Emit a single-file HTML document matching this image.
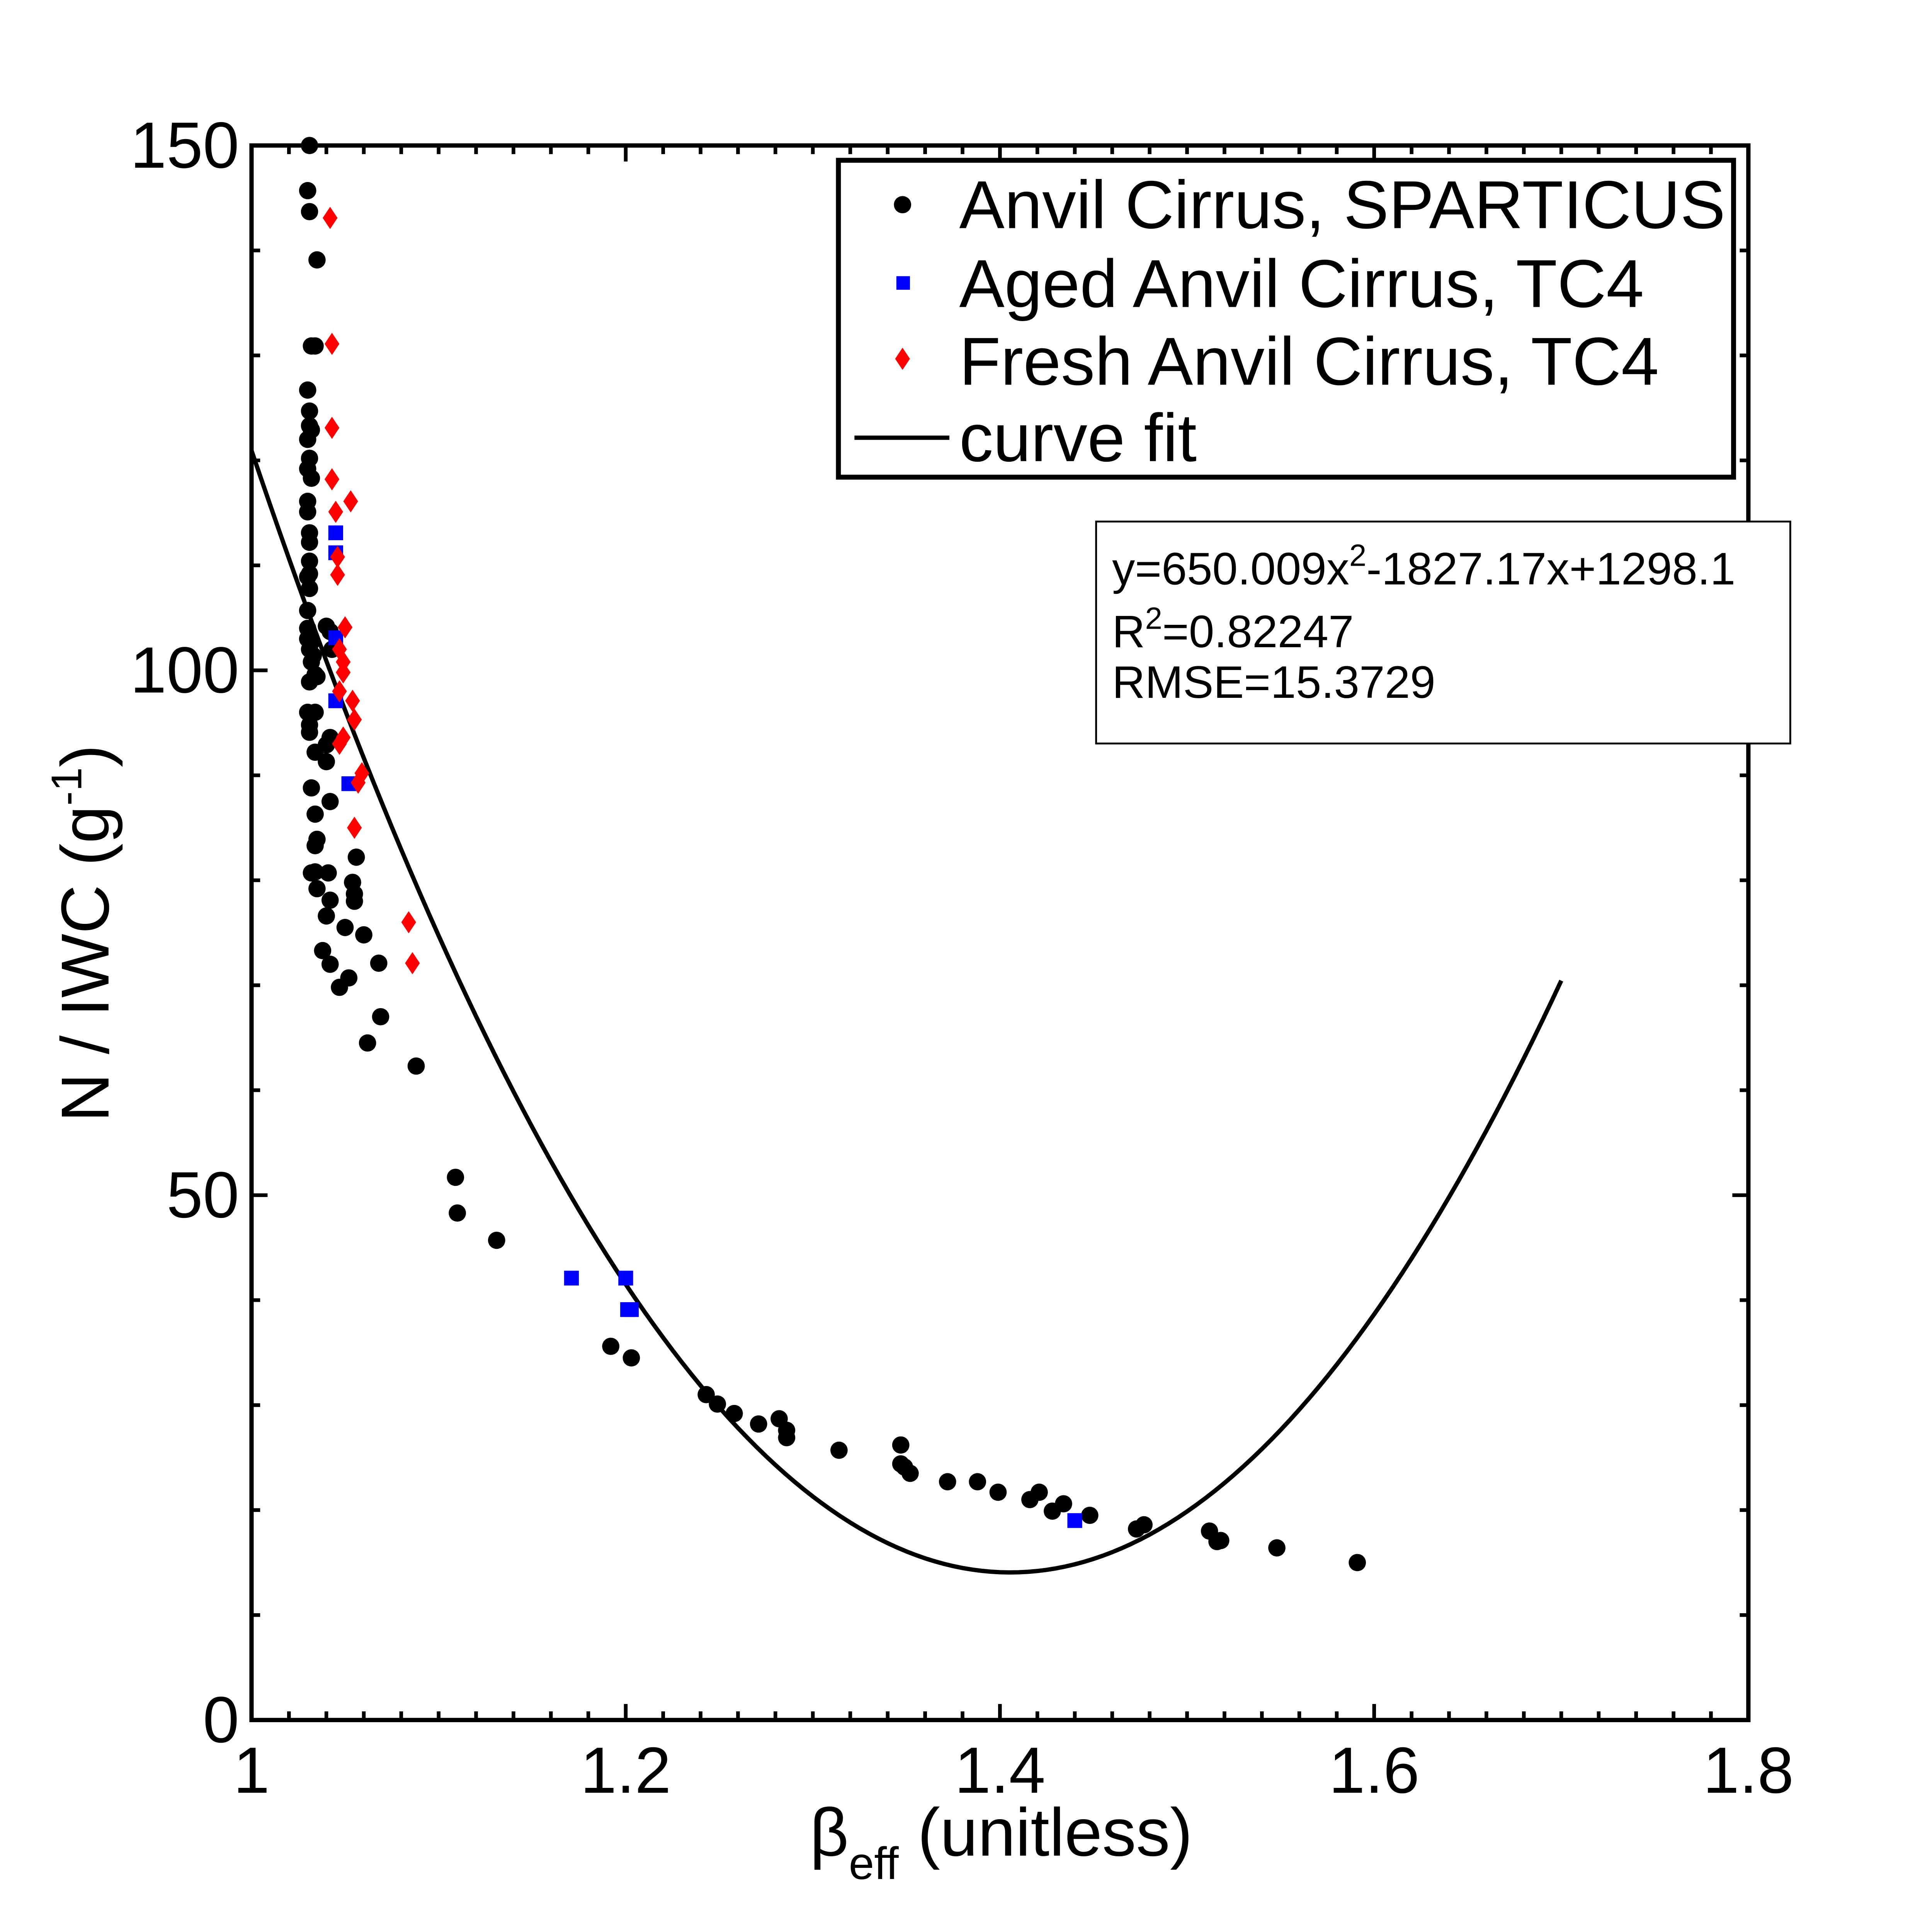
<!DOCTYPE html>
<html><head><meta charset="utf-8">
<style>
html,body{margin:0;padding:0;background:#fff;overflow:hidden;width:5281px;height:5282px;}
svg{display:block;font-family:"Liberation Sans",Arial,sans-serif;}
</style></head>
<body>
<svg id="chart" width="5281" height="5282" viewBox="0 0 1655 1655.3" preserveAspectRatio="none" xmlns="http://www.w3.org/2000/svg">
<rect x="0" y="0" width="1655" height="1656" fill="#fff"/>
<g id="grid"></g>
<g id="marks"></g>
<rect x="204" y="118" width="1214" height="1277" fill="none" stroke="#000" stroke-width="3.5"/>
<g id="ticks"></g>
<text transform="translate(88,757) rotate(-90)" text-anchor="middle" font-size="55">N / IWC (g<tspan font-size="35" dy="-22">-1</tspan><tspan dy="22">)</tspan></text>
<text x="812" y="1505" text-anchor="middle" font-size="55">β<tspan font-size="37" dy="19">eff</tspan><tspan dy="-19"> (unitless)</tspan></text>
<g>
<rect x="680" y="130" width="726" height="257" fill="#fff" stroke="#000" stroke-width="4"/>
<circle cx="732" cy="166" r="7" fill="#000"/>
<text x="778" y="185" font-size="55">Anvil Cirrus, SPARTICUS</text>
<rect x="727" y="224" width="11" height="11" fill="#0000ff"/>
<text x="778" y="249" font-size="55">Aged Anvil Cirrus, TC4</text>
<polygon points="732,282 738,291 732,300 726,291" fill="#ff0000"/>
<text x="778" y="312" font-size="55">Fresh Anvil Cirrus, TC4</text>
<line x1="693" y1="355" x2="770" y2="355" stroke="#000" stroke-width="3.5"/>
<text x="778" y="374" font-size="55">curve fit</text>
</g>
<g>
<rect x="889" y="423" width="563" height="180" fill="#fff" stroke="#000" stroke-width="1.5"/>
<text x="902" y="474" font-size="37">y=650.009x<tspan font-size="25" dy="-15">2</tspan><tspan dy="15">-1827.17x+1298.1</tspan></text>
<text x="902" y="525" font-size="37">R<tspan font-size="25" dy="-15">2</tspan><tspan dy="15">=0.82247</tspan></text>
<text x="902" y="566" font-size="37">RMSE=15.3729</text>
</g>
</svg>
<script>
const blackX=[1.031,1.030,1.031,1.035,1.034,1.032,1.030,1.031,1.031,1.032,1.030,1.031,1.030,1.032,1.030,1.030,1.031,1.031,1.031,1.031,1.030,1.031,1.030,1.030,1.030,1.032,1.031,1.033,1.032,1.034,1.031,1.035,1.040,1.042,1.043,1.030,1.031,1.034,1.031,1.040,1.040,1.042,1.034,1.032,1.042,1.034,1.035,1.034,1.056,1.032,1.034,1.041,1.054,1.035,1.055,1.055,1.040,1.042,1.050,1.060,1.038,1.042,1.052,1.068,1.047,1.069,1.062,1.088,1.109,1.110,1.131,1.192,1.203,1.243,1.249,1.258,1.271,1.282,1.286,1.286,1.314,1.347,1.347,1.349,1.352,1.372,1.388,1.399,1.416,1.421,1.428,1.434,1.448,1.473,1.477,1.512,1.516,1.518,1.548,1.591];
const blackY=[150.0,145.7,143.7,139.1,130.9,130.9,126.7,124.7,123.3,122.9,122.0,120.2,119.2,118.3,116.1,115.1,113.1,112.2,110.4,109.2,108.9,107.8,105.7,104.0,103.0,102.7,102.0,101.4,100.8,99.6,98.9,99.4,104.2,103.7,102.0,96.0,94.8,96.0,94.1,91.3,92.9,93.6,92.2,88.8,87.5,86.3,83.9,83.3,82.2,80.7,80.8,80.7,79.8,79.2,78.7,78.0,76.6,78.1,75.5,74.8,73.3,72.0,70.7,72.1,69.8,67.0,64.5,62.3,51.7,48.3,45.7,35.6,34.5,31.0,30.1,29.2,28.2,28.7,27.6,26.9,25.7,26.2,24.4,24.1,23.5,22.7,22.7,21.7,21.0,21.7,19.9,20.6,19.5,18.2,18.6,18.0,17.0,17.1,16.4,15.0];
const blueX=[1.045,1.045,1.045,1.045,1.052,1.171,1.200,1.201,1.203,1.440];
const blueY=[113.1,111.2,103.1,97.1,89.2,42.1,42.1,39.1,39.1,19.0];
const redX=[1.042,1.043,1.043,1.043,1.045,1.053,1.046,1.046,1.050,1.047,1.049,1.049,1.047,1.054,1.055,1.049,1.047,1.059,1.057,1.055,1.084,1.086];
const redY=[143.1,131.1,123.1,118.2,115.1,116.1,110.8,109.1,104.1,102.0,100.8,99.8,98.0,97.1,95.3,93.6,93.0,90.2,89.3,85.0,76.0,72.1];
const fitCoef=[650.009,-1827.17,1298.1];
const fitRange=[1.0,1.7];
const xTicks=[1,1.2,1.4,1.6,1.8];
const xTickLabels=["1","1.2","1.4","1.6","1.8"];
const yTicks=[0,50,100,150];
const yTickLabels=["0","50","100","150"];

const NS="http://www.w3.org/2000/svg";
const X0=204,X1=1418,Y0=1395,Y1=118;
const xMin=1,xMax=1.8,yMin=0,yMax=150;
function sx(v){return X0+(v-xMin)/(xMax-xMin)*(X1-X0);}
function sy(v){return Y0-(v-yMin)/(yMax-yMin)*(Y0-Y1);}
function mk(tag,attrs,parent){const e=document.createElementNS(NS,tag);for(const k in attrs)e.setAttribute(k,attrs[k]);parent.appendChild(e);return e;}
const marks=document.getElementById('marks');
const ticks=document.getElementById('ticks');

for(let i=0;i<=40;i++){
  const v=xMin+i*0.02;const x=sx(v);const major=i%10===0;const L=major?13:7;
  const t1=mk('line',{x1:x,y1:Y0,x2:x,y2:Y0-L,stroke:'#000','stroke-width':3},ticks);
  
  
  const t2=mk('line',{x1:x,y1:Y1,x2:x,y2:Y1+L,stroke:'#000','stroke-width':3},ticks);
  
  
}
for(let i=0;i<=15;i++){
  const v=i*10;const y=sy(v);const major=i%5===0;const L=major?13:7;
  const t1=mk('line',{x1:X0,y1:y,x2:X0+L,y2:y,stroke:'#000','stroke-width':3},ticks);
  
  
  const t2=mk('line',{x1:X1,y1:y,x2:X1-L,y2:y,stroke:'#000','stroke-width':3},ticks);
  
  
}
xTicks.forEach((v,i)=>{
  const t=mk('text',{x:sx(v),y:1454,'text-anchor':'middle','font-size':53},ticks);
  t.textContent=xTickLabels[i];
  
  
});
yTicks.forEach((v,i)=>{
  const t=mk('text',{x:194,y:sy(v)+18,'text-anchor':'end','font-size':53},ticks);
  t.textContent=yTickLabels[i];
  
  
});

let d='';
for(let i=0;i<=140;i++){
  const x=fitRange[0]+(fitRange[1]-fitRange[0])*i/140;
  const y=fitCoef[0]*x*x+fitCoef[1]*x+fitCoef[2];
  d+=(i?'L':'M')+sx(x).toFixed(2)+','+sy(y).toFixed(2);
}
const path=mk('path',{d:d,fill:'none',stroke:'#000','stroke-width':3.5},marks);



blackX.forEach((v,i)=>{
  const c=mk('circle',{cx:sx(v),cy:sy(blackY[i]),r:7,fill:'#000'},marks);
  
  
});
blueX.forEach((v,i)=>{
  const r=mk('rect',{x:sx(v)-6,y:sy(blueY[i])-6,width:12,height:12,fill:'#0000ff'},marks);
  
  
});
redX.forEach((v,i)=>{
  const x=sx(v),y=sy(redY[i]);
  const p=mk('polygon',{points:`${x},${y-9} ${x+6},${y} ${x},${y+9} ${x-6},${y}`,fill:'#ff0000'},marks);
  
  
});
</script>
</body></html>
